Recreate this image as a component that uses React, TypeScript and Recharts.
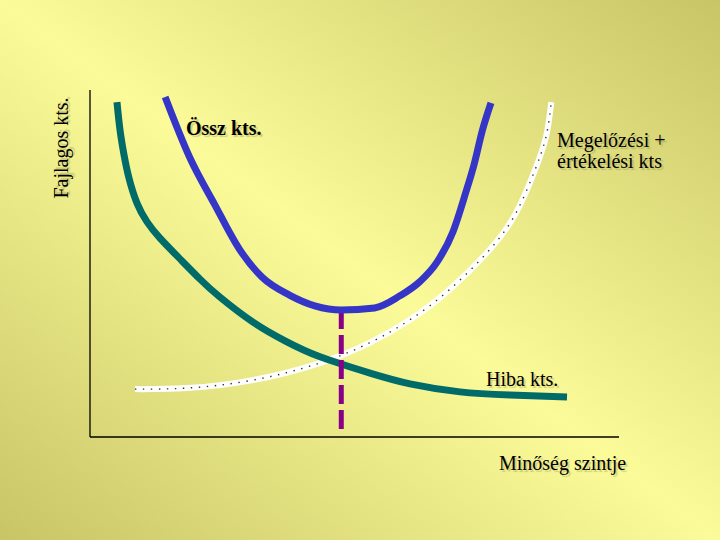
import React from 'react';
import { ComposedChart, Line, XAxis, YAxis, ReferenceLine } from 'recharts';

// Hiba kts. (failure cost) – decreasing curve
const hibaKts = [
  { x: 5.1, y: 96.5 },
  { x: 5.67, y: 88.5 },
  { x: 6.43, y: 81.3 },
  { x: 7.37, y: 74.6 },
  { x: 8.88, y: 67.4 },
  { x: 10.78, y: 62.0 },
  { x: 13.23, y: 57.3 },
  { x: 16.64, y: 51.9 },
  { x: 20.79, y: 45.5 },
  { x: 24.57, y: 40.3 },
  { x: 30.81, y: 33.1 },
  { x: 36.86, y: 27.7 },
  { x: 43.48, y: 23.1 },
  { x: 52.93, y: 18.4 },
  { x: 60.49, y: 15.3 },
  { x: 69.94, y: 13.0 },
  { x: 79.4, y: 12.1 },
  { x: 90.17, y: 11.5 },
];

// Megelőzési + értékelési kts – increasing curve
const megelozesiKts = [
  { x: 8.5, y: 13.8 },
  { x: 18.3, y: 14.1 },
  { x: 30.8, y: 16.4 },
  { x: 43.4, y: 21.3 },
  { x: 52.8, y: 27.1 },
  { x: 60.4, y: 33.7 },
  { x: 67.9, y: 42.4 },
  { x: 75.5, y: 53.9 },
  { x: 80.5, y: 64.5 },
  { x: 84.0, y: 76.5 },
  { x: 86.2, y: 86.5 },
  { x: 87.2, y: 96.5 },
];

// Össz kts. – total cost, U shape
const osszKts = [
  { x: 14.2, y: 98.0 },
  { x: 18.9, y: 80.4 },
  { x: 23.6, y: 66.9 },
  { x: 28.3, y: 54.0 },
  { x: 32.5, y: 46.1 },
  { x: 37.7, y: 40.9 },
  { x: 42.5, y: 37.8 },
  { x: 47.5, y: 36.6 },
  { x: 53.8, y: 37.2 },
  { x: 58.5, y: 40.6 },
  { x: 62.3, y: 44.7 },
  { x: 65.6, y: 50.4 },
  { x: 68.6, y: 59.1 },
  { x: 71.0, y: 70.3 },
  { x: 72.6, y: 78.5 },
  { x: 74.2, y: 88.5 },
  { x: 75.8, y: 96.3 },
];

// Optimum marker (vertical dashed line)
const optimum = [
  { x: 47.5, y: 36.6 },
  { x: 47.5, y: 2.3 },
];

const axisTitleY = 'Fajlagos kts.';
const axisTitleX = 'Minőség szintje';
const labelOssz = 'Össz kts.';
const labelMeg1 = 'Megelőzési +';
const labelMeg2 = 'értékelési kts';
const labelHiba = 'Hiba kts.';

const font = 'Liberation Serif, Tinos, DejaVu Serif, serif';
const shadow = '2px 2px 1px rgba(110,110,60,0.3)';

const txt = (left: number, top: number, bold = false): React.CSSProperties => ({
  position: 'absolute',
  left,
  top,
  fontFamily: font,
  fontSize: 20,
  lineHeight: '20px',
  fontWeight: bold ? 'bold' : 'normal',
  color: '#000',
  whiteSpace: 'nowrap',
  textShadow: shadow,
});

export default function App() {
  return (
    <div
      style={{
        position: 'absolute',
        left: 0,
        top: 0,
        width: 720,
        height: 540,
        overflow: 'hidden',
        fontFamily: font,
        background: 'linear-gradient(to bottom left, #c7c566 0%, #fcfb99 50%, #c7c566 100%)',
      }}
    >
      <ComposedChart
        width={720}
        height={540}
        margin={{ top: 90, right: 101, bottom: 103, left: 90 }}
      >
        <XAxis type="number" dataKey="x" domain={[0, 100]} hide allowDataOverflow />
        <YAxis type="number" dataKey="y" domain={[0, 100]} hide allowDataOverflow />
        <ReferenceLine x={0} stroke="#000" strokeWidth={1.3} />
        <ReferenceLine y={0} stroke="#000" strokeWidth={1.3} />
        <Line
          data={megelozesiKts}
          dataKey="y"
          type="natural"
          stroke="#ffffff"
          strokeWidth={6}
          dot={false}
          activeDot={false}
          isAnimationActive={false}
        />
        <Line
          data={megelozesiKts}
          dataKey="y"
          type="natural"
          stroke="#333333"
          strokeWidth={1.4}
          strokeDasharray="1.4 6.6"
          dot={false}
          activeDot={false}
          isAnimationActive={false}
        />
        <Line
          data={hibaKts}
          dataKey="y"
          type="natural"
          stroke="#006b68"
          strokeWidth={7}
          dot={false}
          activeDot={false}
          isAnimationActive={false}
        />
        <Line
          data={optimum}
          dataKey="y"
          type="linear"
          stroke="#880088"
          strokeWidth={5}
          strokeDasharray="19 6"
          dot={false}
          activeDot={false}
          isAnimationActive={false}
        />
        <Line
          data={osszKts}
          dataKey="y"
          type="monotone"
          stroke="#3535c8"
          strokeWidth={7}
          dot={false}
          activeDot={false}
          isAnimationActive={false}
        />
      </ComposedChart>

      <div
        style={{
          ...txt(-38.75, 137.5),
          width: 200,
          textAlign: 'center',
          transform: 'rotate(-90deg)',
          transformOrigin: '50% 50%',
        }}
      >
        {axisTitleY}
      </div>
      <div style={txt(186, 118, true)}>{labelOssz}</div>
      <div style={txt(557, 130)}>{labelMeg1}</div>
      <div style={txt(557, 151)}>{labelMeg2}</div>
      <div style={txt(486, 369)}>{labelHiba}</div>
      <div style={txt(499, 453)}>{axisTitleX}</div>
    </div>
  );
}
